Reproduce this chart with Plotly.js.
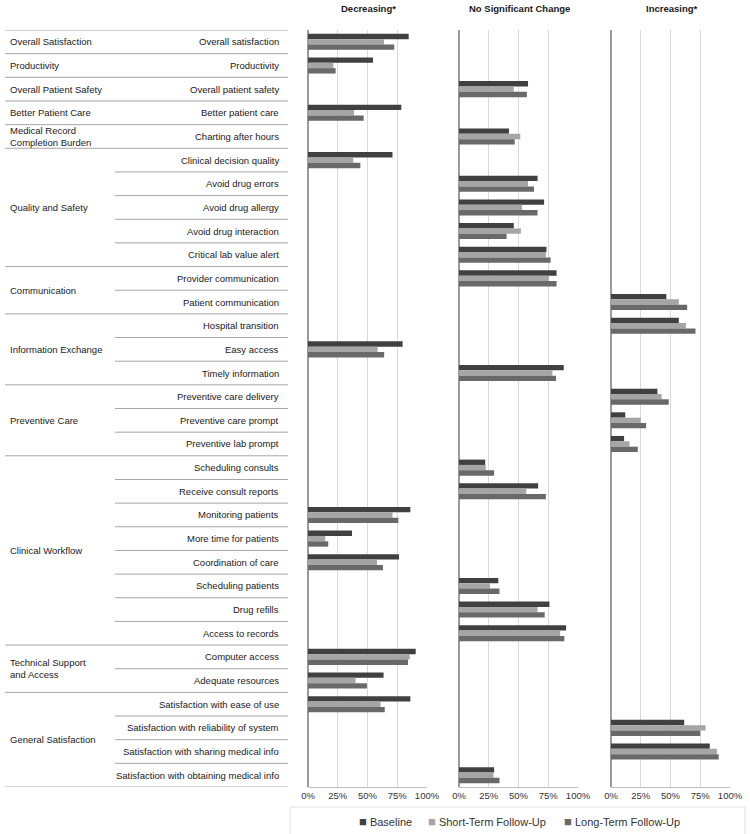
<!DOCTYPE html>
<html>
<head>
<meta charset="utf-8">
<script src="https://cdn.plot.ly/plotly-3.0.1.min.js"></script>
<style>html,body{margin:0;padding:0;background:#fff}#chart{width:750px;height:834px}</style>
</head>
<body>
<div id="chart"></div>
<script>
// ---- data ----
const subcategories = [
  "Overall satisfaction","Productivity","Overall patient safety","Better patient care",
  "Charting after hours","Clinical decision quality","Avoid drug errors","Avoid drug allergy",
  "Avoid drug interaction","Critical lab value alert","Provider communication","Patient communication",
  "Hospital transition","Easy access","Timely information","Preventive care delivery",
  "Preventive care prompt","Preventive lab prompt","Scheduling consults","Receive consult reports",
  "Monitoring patients","More time for patients","Coordination of care","Scheduling patients",
  "Drug refills","Access to records","Computer access","Adequate resources",
  "Satisfaction with ease of use","Satisfaction with reliability of system",
  "Satisfaction with sharing medical info","Satisfaction with obtaining medical info"
];
// which panel each subcategory belongs to
const trend = [
  "Decreasing*","Decreasing*","No Significant Change","Decreasing*",
  "No Significant Change","Decreasing*","No Significant Change","No Significant Change",
  "No Significant Change","No Significant Change","No Significant Change","Increasing*",
  "Increasing*","Decreasing*","No Significant Change","Increasing*",
  "Increasing*","Increasing*","No Significant Change","No Significant Change",
  "Decreasing*","Decreasing*","Decreasing*","No Significant Change",
  "No Significant Change","No Significant Change","Decreasing*","Decreasing*",
  "Decreasing*","Increasing*","Increasing*","No Significant Change"
];
const baseline  = [84.6,54.6,58,78.4,42,71,66,71.5,46,73.5,82,46.5,57,79.5,88,39,12,11,22,66.5,86,37,76.5,33,76,90,90.5,63.5,86,61.5,83,29.5];
const shortTerm = [63.9,21.3,46,38.7,51.5,38,58,53,52,73,75.5,57,63,58.5,78.5,42.5,25,15.5,22.5,56.5,71,14.5,58,26,66,85,85.5,40,61,79.5,89,29];
const longTerm  = [72.5,23.2,57,46.8,46.8,44,63,66,40,77,82,64,71,64,81.5,48.5,29.5,22.5,29.5,73,76,17,63,34,72,88.5,84,49.5,64.5,75,90.5,34];
const categories = ["Overall Satisfaction","Productivity","Overall Patient Safety","Better Patient Care",
  "Medical Record<br>Completion Burden","Quality and Safety","Communication","Information Exchange",
  "Preventive Care","Clinical Workflow","Technical Support<br>and Access","General Satisfaction"];
const categorySizes = [1,1,1,1,1,5,2,3,3,8,2,4];
const panels = ["Decreasing*","No Significant Change","Increasing*"];
const seriesNames = ["Baseline","Short-Term Follow-Up","Long-Term Follow-Up"];
const tickVals = [0,25,50,75,100];
const tickText = ["0%","25%","50%","75%","100%"];

// ---- styling ----
const colors = ["#404040","#a5a5a5","#696969"];
const W = 750, H = 834;
const px = v => v / W;
const py = v => 1 - v / H;
const panelX = [[308,427],[459,578],[611,730]];
const legendX = [357, 426, 562];
const txtFont = {family:"Liberation Sans, Arial, sans-serif", size:9.5, color:"#1a1a1a"};

const seriesData = [baseline, shortTerm, longTerm];
const traces = [];
panels.forEach((p, pi) => {
  const idx = [];
  trend.forEach((t, i) => { if (t === p) idx.push(i); });
  seriesData.forEach((vals, si) => {
    traces.push({
      type: "bar", orientation: "h",
      name: seriesNames[si],
      legendgroup: seriesNames[si],
      showlegend: false,
      x: idx.map(i => vals[i]),
      y: idx.map(i => i),
      xaxis: pi === 0 ? "x" : "x" + (pi + 1),
      yaxis: "y",
      marker: {color: colors[si], line: {width: 0}},
      hoverinfo: "x+name"
    });
  });
});

const n = subcategories.length;
const layout = {
  width: W, height: H,
  margin: {l:0, r:0, t:0, b:0},
  paper_bgcolor: "#fff", plot_bgcolor: "rgba(0,0,0,0)",
  barmode: "group", bargap: 0.32, bargroupgap: 0,
  showlegend: false,
  yaxis: {range: [n - 0.5, -0.5], domain: [py(787), py(30)], showticklabels:false,
          showgrid:false, zeroline:false, showline:false, ticks:"", fixedrange:true},
  shapes: [],
  annotations: []
};
panelX.forEach((pxr, pi) => {
  const key = pi === 0 ? "xaxis" : "xaxis" + (pi + 1);
  layout[key] = {
    domain: [px(pxr[0]), px(pxr[1])], anchor: "y", range: [0, 100],
    tickvals: tickVals, ticktext: tickText,
    tickfont: {family:"Liberation Sans, Arial, sans-serif", size:9.5, color:"#333"},
    showgrid: true, gridcolor: "#d9d9d9", gridwidth: 1,
    zeroline: true, zerolinecolor: "#9a9a9a", zerolinewidth: 2,
    showline: true, linecolor: "#bfbfbf", linewidth: 1, ticks: "", ticklen: 0,
    fixedrange: true
  };
  layout.annotations.push({
    text: "<b>" + panels[pi] + "</b>", xref:"paper", yref:"paper",
    x: px((pxr[0] + pxr[1]) / 2 + 1), y: py(8), xanchor:"center", yanchor:"middle",
    showarrow:false, font:{family:"Liberation Sans, Arial, sans-serif", size:9.5, color:"#1a1a1a"}
  });
});

// subcategory labels
subcategories.forEach((s, i) => {
  layout.annotations.push({text: s, xref:"paper", yref:"y", x: px(281), y: i,
    xanchor:"right", yanchor:"middle", showarrow:false, font: txtFont});
});
// category labels and separator lines
let start = 0;
layout.shapes.push({type:"line", xref:"paper", yref:"y", x0: px(5), x1: px(288), y0: -0.5, y1: -0.5,
  line:{color:"#a6a6a6", width:1}});
categories.forEach((c, ci) => {
  const size = categorySizes[ci];
  layout.annotations.push({text: c, xref:"paper", yref:"y", x: px(8), y: start + (size - 1) / 2,
    xanchor:"left", yanchor:"middle", align:"left", showarrow:false, font: txtFont});
  for (let k = 1; k < size; k++) {
    layout.shapes.push({type:"line", xref:"paper", yref:"y", x0: px(115), x1: px(288),
      y0: start + k - 0.5, y1: start + k - 0.5, line:{color:"#a6a6a6", width:1}});
  }
  start += size;
  layout.shapes.push({type:"line", xref:"paper", yref:"y", x0: px(5), x1: px(288),
    y0: start - 0.5, y1: start - 0.5, line:{color:"#a6a6a6", width:1}});
});
// legend (series key) drawn as text
seriesNames.forEach((s, si) => {
  layout.annotations.push({
    text: '<span style="color:' + colors[si] + ';font-size:13px">■</span> ' + s,
    xref:"paper", yref:"paper", x: px(legendX[si]), y: py(821), xanchor:"left", yanchor:"middle",
    showarrow:false, font:{family:"Liberation Sans, Arial, sans-serif", size:11, color:"#333"}
  });
});
// legend frame
layout.shapes.push({type:"rect", xref:"paper", yref:"paper", x0: px(290), x1: px(745),
  y0: py(835), y1: py(807), line:{color:"#e3e3e3", width:1}, fillcolor:"rgba(0,0,0,0)"});

Plotly.newPlot("chart", traces, layout, {displayModeBar:false, staticPlot:true});
</script>
</body>
</html>
